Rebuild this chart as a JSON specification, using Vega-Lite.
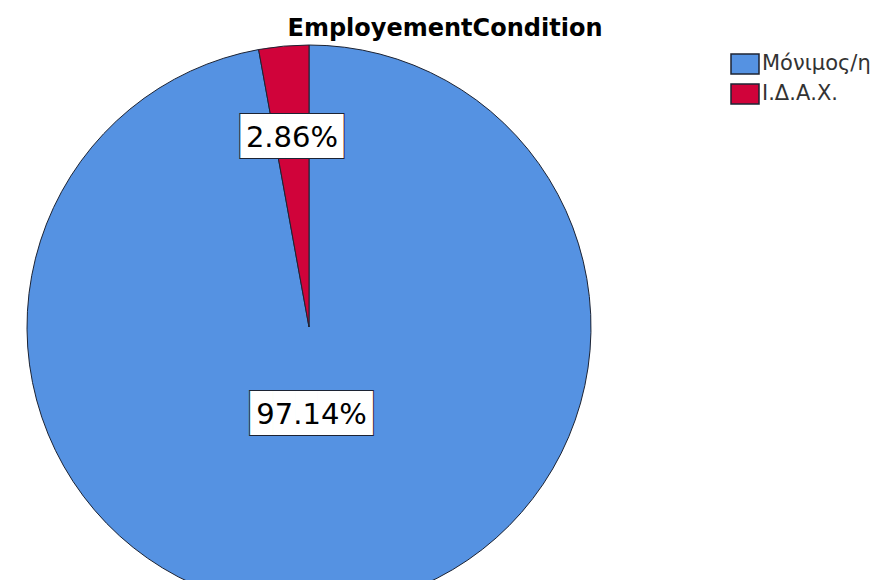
{
  "$schema": "https://vega.github.io/schema/vega-lite/v6.json",
  "width": 564,
  "height": 564,
  "autosize": {"type": "none"},
  "padding": {"left": 27, "top": 45, "right": 298, "bottom": 0},
  "background": "white",
  "config": {"view": {"stroke": null}},
  "title": {
    "text": "EmployementCondition",
    "font": "DejaVu Sans",
    "fontSize": 24,
    "fontWeight": "bold",
    "color": "#000000",
    "anchor": "middle",
    "dx": 136,
    "offset": -17,
    "baseline": "alphabetic"
  },
  "data": {
    "values": [
      {"condition": "Μόνιμος/η", "pct": 97.14, "label": "97.14%"},
      {"condition": "Ι.Δ.Α.Χ.", "pct": 2.86, "label": "2.86%"}
    ]
  },
  "encoding": {
    "theta": {"field": "pct", "type": "quantitative", "stack": true},
    "order": {"field": "pct", "type": "quantitative", "sort": "descending"}
  },
  "layer": [
    {
      "mark": {"type": "arc", "outerRadius": 282, "stroke": "#1c2333", "strokeWidth": 1},
      "encoding": {
        "color": {
          "field": "condition",
          "type": "nominal",
          "scale": {"domain": ["Μόνιμος/η", "Ι.Δ.Α.Χ."], "range": ["#5592E2", "#D0033A"]},
          "legend": {
            "orient": "none",
            "legendX": 703,
            "legendY": 4,
            "title": null,
            "padding": 0,
            "symbolType": "M-1,-0.71L1,-0.71L1,0.71L-1,0.71Z",
            "symbolSize": 784,
            "symbolStrokeColor": "#1c2333",
            "symbolStrokeWidth": 1.5,
            "symbolOpacity": 1,
            "labelFont": "DejaVu Sans",
            "labelFontSize": 21,
            "labelColor": "#333333",
            "labelOffset": 2,
            "rowPadding": 2
          }
        }
      }
    },
    {
      "mark": {"type": "text", "radius": 190, "font": "DejaVu Sans Mono", "fontSize": 37, "fill": "white", "stroke": "#1c2333", "strokeWidth": 2, "dx": 4.2, "align": "center", "baseline": "middle"},
      "encoding": {
        "detail": {"field": "condition"},
        "text": {"condition": {"test": "datum.pct < 50", "value": "████▋"}, "value": ""}
      }
    },
    {
      "mark": {"type": "text", "radius": 190, "font": "DejaVu Sans Mono", "fontSize": 37, "fill": "white", "dx": 4.2, "align": "center", "baseline": "middle"},
      "encoding": {
        "detail": {"field": "condition"},
        "text": {"condition": {"test": "datum.pct < 50", "value": "████▋"}, "value": ""}
      }
    },
    {
      "mark": {"type": "text", "radius": 88, "font": "DejaVu Sans Mono", "fontSize": 37, "fill": "white", "stroke": "#1c2333", "strokeWidth": 2, "dx": 0.3, "align": "center", "baseline": "middle"},
      "encoding": {
        "detail": {"field": "condition"},
        "text": {"condition": {"test": "datum.pct >= 50", "value": "█████▌"}, "value": ""}
      }
    },
    {
      "mark": {"type": "text", "radius": 88, "font": "DejaVu Sans Mono", "fontSize": 37, "fill": "white", "dx": 0.3, "align": "center", "baseline": "middle"},
      "encoding": {
        "detail": {"field": "condition"},
        "text": {"condition": {"test": "datum.pct >= 50", "value": "█████▌"}, "value": ""}
      }
    },
    {
      "mark": {"type": "text", "radius": 190, "font": "DejaVu Sans", "fontSize": 29, "fill": "#000000", "align": "center", "baseline": "middle"},
      "encoding": {
        "detail": {"field": "condition"},
        "text": {"condition": {"test": "datum.pct < 50", "field": "label"}, "value": ""}
      }
    },
    {
      "mark": {"type": "text", "radius": 88, "font": "DejaVu Sans", "fontSize": 29, "fill": "#000000", "dx": -5.3, "align": "center", "baseline": "middle"},
      "encoding": {
        "detail": {"field": "condition"},
        "text": {"condition": {"test": "datum.pct >= 50", "field": "label"}, "value": ""}
      }
    }
  ]
}
